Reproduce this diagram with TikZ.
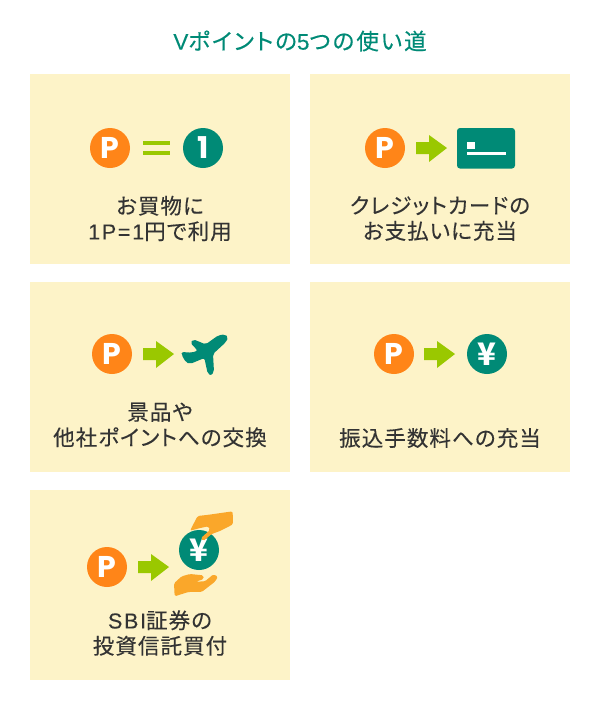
\documentclass[tikz,border=0pt]{standalone}
\usepackage{fontspec}
\newfontfamily\jp[LetterSpace=5,FakeBold=0.25,RawFeature=+palt]{Noto Sans CJK JP}
\newfontfamily\jptitle[LetterSpace=9,FakeBold=0.25,RawFeature=+palt]{Noto Sans CJK JP}
\newfontfamily\lat[LetterSpace=8,FakeBold=0.2]{Liberation Sans}
\newfontfamily\sym{Poppins}
\newfontfamily\yenfont{Noto Sans CJK JP}
\definecolor{panel}{HTML}{FDF3C8}
\definecolor{porange}{HTML}{FF8518}
\definecolor{teal}{HTML}{008A76}
\definecolor{lime}{HTML}{9AC800}
\definecolor{hand}{HTML}{FAA72A}
\definecolor{ink}{HTML}{333333}
\tikzset{
  x=1pt,y=-1pt,
  card/.style={fill=panel,draw=none,minimum width=260pt,minimum height=190pt,inner sep=0pt,outer sep=0pt},
  ptcoin/.style={circle,fill=porange,text=white,minimum size=40pt,inner sep=0pt,font={\sym\bfseries\fontsize{30}{30}\selectfont}},
  tealcoin/.style={circle,fill=teal,text=white,minimum size=40pt,inner sep=0pt,font={\sym\bfseries\fontsize{30}{30}\selectfont}},
  yencoin/.style={circle,fill=teal,text=white,minimum size=40pt,inner sep=0pt,font={\yenfont\bfseries\fontsize{31}{31}\selectfont}},
  caption/.style={text=ink,align=center,inner sep=0pt,font={\jp\fontsize{21.5}{25.5}\selectfont}},
  heading/.style={text=teal,inner sep=0pt,font={\jptitle\fontsize{22.5}{25}\selectfont}},
}
\newcommand{\blockarrow}[2]{\fill[lime] (#1,#2-6) -- ++(13,0) -- ++(0,-7) -- ++(18,13) -- ++(-18,14) -- ++(0,-8) -- ++(-13,0) -- cycle;}
\begin{document}
\begin{tikzpicture}
\useasboundingbox (0,0) rectangle (600,710);
\fill[white] (0,0) rectangle (600,710);
\node[heading] (title) at (300,41) {{\lat V}ポイントの{\lat 5}つの使い道};

\node[card] (c1) at (160,169) {};
\node[card] (c2) at (440,169) {};
\node[card] (c3) at (160,377) {};
\node[card] (c4) at (440,377) {};
\node[card] (c5) at (160,585) {};

% card 1
\node[ptcoin] (p1) at (110,148) {P};
\fill[lime] (143,141) rectangle (170,145);
\fill[lime] (143,151) rectangle (170,155);
\node[tealcoin] (one) at (203,148) {1};
\node[caption] (t1) at (160,218.5) {お買物に\\{\lat 1P=1}円で利用};

% card 2
\node[ptcoin] (p2) at (385,148) {P};
\blockarrow{416}{148}
\fill[teal,rounded corners=3pt] (457,128) rectangle (515,168.5);
\fill[white] (467,142) rectangle (475,149);
\fill[white] (467,152) rectangle (506,155);
\node[caption] (t2) at (440,218.5) {クレジットカードの\\お支払いに充当};

% card 3
\node[ptcoin] (p3) at (112,354) {P};
\blockarrow{143}{354}
\begin{scope}[shift={(175,330)},x=0.3333pt,y=-0.3333pt]
\fill[teal,rounded corners=2pt] (150,13) -- (130,16) -- (92,43) -- (55,28) -- (46,38) -- (68,62) -- (50,68) -- (20,66) -- (20,75) -- (33,97) -- (45,102) -- (88,84) -- (98,130) -- (108,137) -- (117,125) -- (114,72) -- (152,37) -- (160,22) -- cycle;
\end{scope}
\node[caption] (t3) at (160,425) {景品や\\他社ポイントへの交換};

% card 4
\node[ptcoin] (p4) at (394,354) {P};
\blockarrow{424}{354}
\node[yencoin] (yen1) at (487,354) {¥};
\node[caption] (t4) at (440,438) {振込手数料への充当};

% card 5
\node[ptcoin] (p5) at (107,567) {P};
\blockarrow{138}{567}
\node[yencoin] (yen2) at (199,550) {¥};
\begin{scope}[shift={(170,505)},x=0.3333pt,y=-0.3333pt]
\fill[hand,rounded corners=1.5pt] (188,19) -- (189,58) -- (150,78) -- (125,87) -- (100,108) -- (92,100) -- (120,75) -- (115,64) -- (95,68) -- (60,77) -- (83,33) -- (110,30) -- cycle;
\fill[hand,rounded corners=1.5pt] (14,274) -- (12,235) -- (35,214) -- (60,207) -- (100,211) -- (101,222) -- (78,230) -- (105,229) -- (130,208) -- (144,215) -- (135,230) -- (95,261) -- (55,261) -- cycle;
\end{scope}
\node[caption] (t5) at (160,633) {{\lat SBI}証券の\\投資信託買付};
\end{tikzpicture}
\end{document}
